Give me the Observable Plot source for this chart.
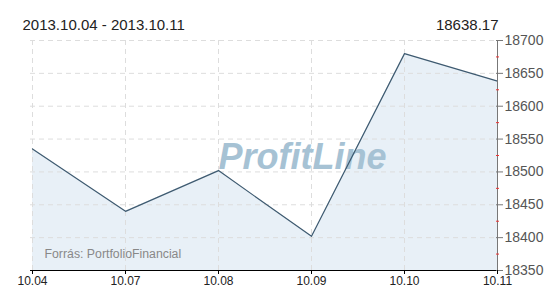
<!DOCTYPE html>
<html><head><meta charset="utf-8">
<script src="https://cdn.jsdelivr.net/npm/d3@7"></script>
<script src="https://cdn.jsdelivr.net/npm/@observablehq/plot@0.6"></script>
<style>body{margin:0;background:#fff;font-family:"Liberation Sans",Arial,sans-serif}</style>
</head><body><div id="chart"></div>
<script>
const dates = ["10.04","10.07","10.08","10.09","10.10","10.11"];
const values = [18535, 18440, 18502, 18402, 18680, 18638.17];
const yTicks = [18350,18400,18450,18500,18550,18600,18650,18700];
const yMinor = [18375,18425,18475,18525,18575,18625,18675];
const title = "2013.10.04 - 2013.10.11";
const lastValue = "18638.17";
const source = "Forrás: PortfolioFinancial";
const watermark = "ProfitLine";

const data = dates.map((d,i)=>({date:d, value:values[i]}));
const base = 18350;

const chart = Plot.plot({
  width: 550, height: 300,
  marginTop: 40, marginBottom: 30, marginLeft: 30, marginRight: 52,
  style: {fontFamily: '"Liberation Sans", Arial, sans-serif', background: "#fff"},
  x: {type: "point", domain: dates, padding: 0, label: null},
  y: {domain: [18350, 18700], label: null},
  marks: [
    Plot.areaY(data, {x: "date", y1: base, y2: "value", fill: "#e8f0f7"}),
    Plot.gridY(yTicks, {stroke: "#ddd", strokeOpacity: 1, strokeDasharray: "5,4"}),
    Plot.gridX(dates, {stroke: "#ddd", strokeOpacity: 1, strokeDasharray: "5,4"}),
    Plot.text([watermark], {frameAnchor: "middle", dx: 38, dy: 2, fill: "#a6c2d4", fontSize: 36, fontWeight: "bold", fontStyle: "italic"}),
    Plot.text([source], {frameAnchor: "bottom-left", dx: 14, dy: -13, fill: "#888", fontSize: 12.3, textAnchor: "start"}),
    Plot.lineY(data, {x: "date", y: "value", stroke: "#3e5a70", strokeWidth: 1.2}),
    Plot.ruleX([dates[dates.length-1]], {stroke: "#777"}),
    Plot.ruleY([base], {stroke: "#000"}),
    Plot.axisY({ticks: yMinor, anchor: "right", tickSize: -3, stroke: "#e33", tickFormat: () => "", label: null}),
    Plot.axisY({ticks: yTicks, anchor: "right", tickSize: -3, stroke: "#777", tickFormat: () => "", label: null}),
    Plot.axisY({ticks: yTicks, anchor: "right", tickSize: 4, stroke: "#777", tickPadding: 2, fontSize: 14, fill: "#555", tickFormat: d => String(d), label: null}),
    Plot.axisX({ticks: dates, anchor: "bottom", tickSize: 4, stroke: "#000", tickPadding: 2, fontSize: 12, fill: "#222", label: null}),
    Plot.text([title], {frameAnchor: "top-left", dx: -8, dy: -21, fontSize: 15, fill: "#222", textAnchor: "start"}),
    Plot.text([lastValue], {frameAnchor: "top-right", dx: 0, dy: -21, fontSize: 15, fill: "#222", textAnchor: "end"})
  ]
});
document.getElementById("chart").append(chart);
</script></body></html>
